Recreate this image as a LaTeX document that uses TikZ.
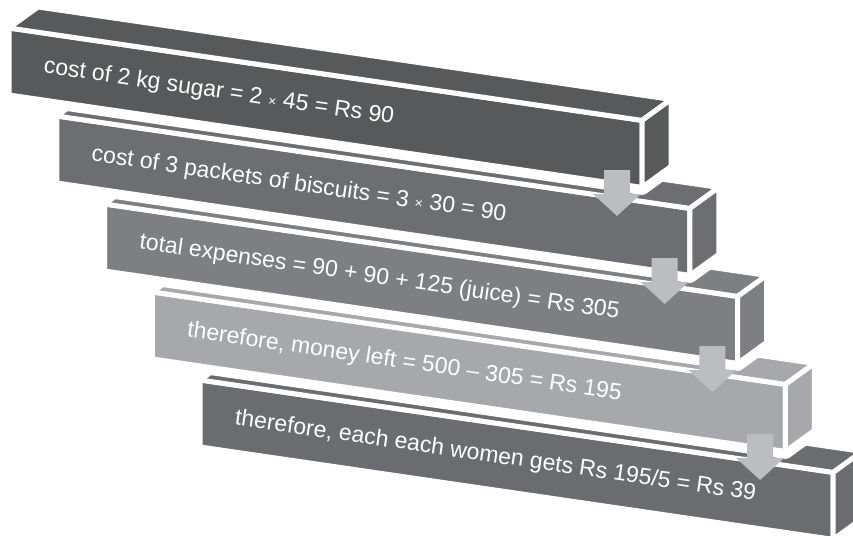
\documentclass[tikz,border=0pt]{standalone}
\usepackage{fontspec}
\setmainfont{Liberation Sans}
\definecolor{barA}{HTML}{58595B}
\definecolor{barB}{HTML}{6D6E71}
\definecolor{barC}{HTML}{7E7F83}
\definecolor{barD}{HTML}{A7A8AB}
\definecolor{barE}{HTML}{6B6C6F}
\definecolor{arrowgray}{HTML}{BCBDC0}
\newcommand{\smalltimes}{{\fontsize{14}{14}\selectfont ×}}
\begin{document}
\begin{tikzpicture}[x=1pt,y=-1pt]
        \tikzstyle{every node}=[text=white,font=\fontsize{23}{26}\selectfont,inner sep=0pt,anchor=base west,rotate=-8.3]
        \tikzstyle{face}=[draw=white,line width=5pt,line join=round]
        \tikzstyle{halo}=[draw=white,line width=15pt,line join=round]
        \useasboundingbox (0,0) rectangle (853,535);
        \clip (0,0) rectangle (853,535);
        \foreach \i/\col/\txt in {4/barE/{therefore, each each women gets Rs 195/5 = Rs 39},
                3/barD/{therefore, money left = 500 – 305 = Rs 195},
                2/barC/{total expenses = 90 + 90 + 125 (juice) = Rs 305},
                1/barB/{cost of 3 packets of biscuits = 3 \smalltimes\ 30 = 90},
                0/barA/{cost of 2 kg sugar = 2 \smalltimes\ 45 = Rs 90}} {
            \begin{scope}[shift={(9+47.8*\i,28+88*\i)}]
                \draw[halo] (0,0) -- (29,-21) -- (662,71.4) -- (662,138.4) -- (633,159.4) -- (0,67) -- cycle;
                \filldraw[face,fill=\col] (0,0) -- (633,92.4) -- (633,159.4) -- (0,67) -- cycle;
                \filldraw[face,fill=\col] (0,0) -- (29,-21) -- (662,71.4) -- (633,92.4) -- cycle;
                \filldraw[face,fill=\col] (633,92.4) -- (662,71.4) -- (662,138.4) -- (633,159.4) -- cycle;
                \node (t\i) at (34,44.7) {\txt};
            \end{scope}
        }
        \foreach \j in {0,...,3}
            \fill[arrowgray,shift={(617+47.7*\j,170+88*\j)}] (-13,0) -- (13,0) -- (13,24) -- (24,24) -- (0,46) -- (-24,24) -- (-13,24) -- cycle;
\end{tikzpicture}
\end{document}
